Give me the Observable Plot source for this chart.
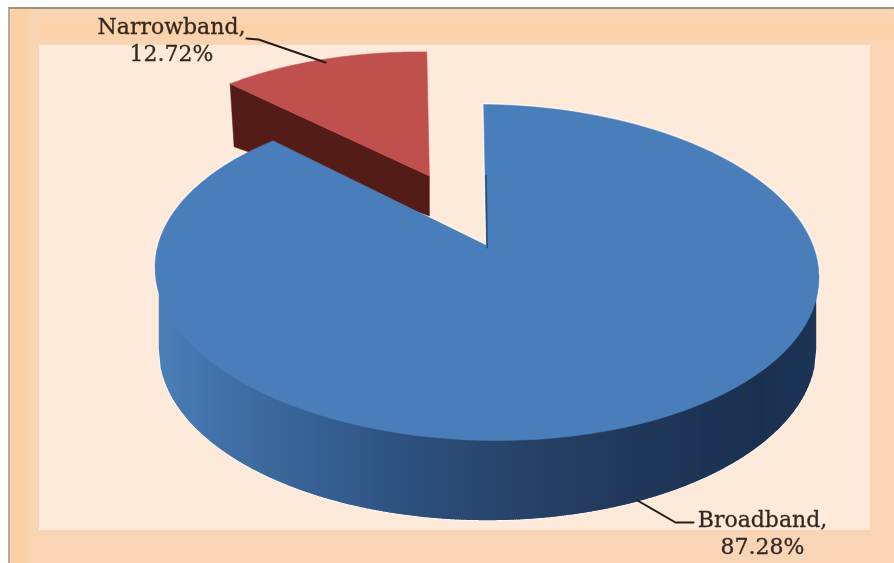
<!DOCTYPE html>
<html>
<head>
<meta charset="utf-8">
<script src="https://cdn.jsdelivr.net/npm/d3@7"></script>
<script src="https://cdn.jsdelivr.net/npm/@observablehq/plot@0.6"></script>
<style>
  html, body { margin: 0; padding: 0; background: #fff; }
  #stage { position: relative; width: 894px; height: 563px; overflow: hidden; }
  #frame { position: absolute; left: 8px; top: 7px; right: 0; bottom: 0; box-sizing: border-box;
           border-top: 2px solid #a3907c; border-left: 2px solid #b3aaa0;
           background: linear-gradient(90deg, #fdd0a8 0, #fdd0a8 15px, #f9d5b6 25px, transparent 30px),
                       linear-gradient(#f6d6ba 0, #fdd2aa 16px, #fdd2aa 26px, #f9d5b6 36px); }
  #panel { position: absolute; left: 39px; top: 45px; width: 831px; height: 485px; background: #fdeadb; }
  #chart { position: absolute; left: 0; top: 0; filter: blur(0.5px); }
  #chart svg { background: transparent; display: block; }
</style>
</head>
<body>
<div id="stage"><div id="frame"></div><div id="panel"></div><div id="chart"></div></div>
<script>
// Data
const categories = ["Broadband", "Narrowband"];
const shares = [87.28, 12.72];

// Tilted-disc view of the pie: ellipse of the top face and of the bottom rim
const topDisc = {cx: 486.5, cy: 272, rx: 332, ry: 168, apex: -0.16, shearX: 0.01, shearY: 0.02};
const rimDisc = {cx: 487, cy: 349, rx: 328, ry: 170};
const burst = {sx: 0.934, sy: 0.879, dx: -25, dy: -40};   // exploded slice
const burstDepth = {near: [0, 40], far: [4, 63]};

const sideStops = [159, 230, 330, 420, 520, 640, 760, 815];
const sideColors = ["#4c7fb8", "#416fa6", "#355f91", "#2d4f7c", "#274368", "#20385a", "#1b3150", "#1d3556"];

const colors = {broad: "#4a7ebb", narrow: "#c0504d", narrowSide: "#541c17"};

// Perspective projection of a point of the unit disc (u right, v down)
function project(u, v) {
  const a = topDisc.apex, w = 1 + a * v;
  const px = u * Math.sqrt(1 - a * a) / w, py = (v + a) / w;
  return [topDisc.cx + topDisc.rx * (px + topDisc.shearX * py),
          topDisc.cy + topDisc.ry * (py + topDisc.shearY * px)];
}
const rimAt = deg => project(Math.sin(deg * Math.PI / 180), -Math.cos(deg * Math.PI / 180));
const centre = project(0, 0);

const sweep = shares[0] * 3.6;              // Broadband runs clockwise from 12 o'clock
const arc = (a0, a1) => d3.range(0, 121).map(i => rimAt(a0 + (a1 - a0) * i / 120));
const moved = ([x, y]) => [x * burst.sx + burst.dx, y * burst.sy + burst.dy];

const broadFace = [centre, ...arc(0, sweep), centre];
const narrowFace = [centre, ...arc(sweep, 360), centre].map(moved);
const nFar = moved(rimAt(sweep)), nNear = moved(centre);
const narrowCut = [nFar, nNear,
  [nNear[0] + burstDepth.near[0], nNear[1] + burstDepth.near[1]],
  [nFar[0] + burstDepth.far[0], nFar[1] + burstDepth.far[1]], nFar];

// Outer wall cut into narrow strips so it can carry the horizontal shading
const yTop = x => { const u = (x - topDisc.cx) / topDisc.rx; return topDisc.cy + topDisc.ry * Math.sqrt(Math.max(0, 1 - u * u)) - 12; };
const yRim = x => { const u = (x - rimDisc.cx) / rimDisc.rx; return rimDisc.cy + rimDisc.ry * Math.sqrt(Math.max(0, 1 - u * u)); };
const wall = [];
const wallOutline = [];
for (let x = sideStops[0]; x < sideStops[sideStops.length - 1]; x += 2) {
  const x2 = Math.min(x + 2, sideStops[sideStops.length - 1]);
  [[x, yTop(x)], [x2, yTop(x2)], [x2, yRim(x2)], [x, yRim(x)], [x, yTop(x)]]
    .forEach(([px, py]) => wall.push({x: px, y: py, strip: x, shade: x + 1}));
  wallOutline.push([x, yRim(x)]);
}
wallOutline.push([sideStops[sideStops.length - 1], yRim(sideStops[sideStops.length - 1])]);

const labels = [
  {x: 171, y: 38.5, text: `${categories[1]},\n${shares[1].toFixed(2)}%`},
  {x: 762, y: 531, text: `${categories[0]},\n${shares[0].toFixed(2)}%`}
];
const leaders = [
  {id: 0, x: 246, y: 38}, {id: 0, x: 258, y: 39}, {id: 0, x: 325, y: 62},
  {id: 1, x: 637, y: 500}, {id: 1, x: 675, y: 522}, {id: 1, x: 693, y: 522}
];

const X = d => d[0], Y = d => d[1];
const plot = Plot.plot({
  width: 894, height: 563, margin: 0,
  x: {domain: [0, 894], range: [0, 894], axis: null},
  y: {domain: [0, 563], range: [0, 563], axis: null},
  color: {type: "linear", domain: sideStops, range: sideColors},
  style: {background: "transparent"},
  marks: [
    // pale halo round the blue silhouette
    Plot.line(broadFace, {x: X, y: Y, stroke: "#ffffff", strokeWidth: 3, strokeOpacity: 0.6}),
    Plot.line(wallOutline, {x: X, y: Y, stroke: "#ffffff", strokeWidth: 3, strokeOpacity: 0.6}),
    // exploded Narrowband slice
    Plot.line(narrowCut, {x: X, y: Y, fill: colors.narrowSide, stroke: colors.narrowSide, strokeWidth: 0.5}),
    Plot.line(narrowFace, {x: X, y: Y, fill: colors.narrow, stroke: colors.narrow, strokeWidth: 0.5}),
    // Broadband slice
    Plot.line(wall, {x: "x", y: "y", z: "strip", fill: "shade", stroke: "shade", strokeWidth: 1.4}),
    Plot.line(broadFace, {x: X, y: Y, fill: colors.broad, stroke: colors.broad, strokeWidth: 0.5}),
    Plot.line([[centre[0] + 0.6, centre[1] + 2], [centre[0] - 0.4, centre[1] - 70]],
      {x: X, y: Y, stroke: "#27405f", strokeWidth: 1.6, strokeOpacity: 0.8}),
    // leaders and labels
    Plot.line(leaders, {x: "x", y: "y", z: "id", stroke: "#241c16", strokeWidth: 2}),
    Plot.text(labels, {
      x: "x", y: "y", text: "text", fontFamily: "DejaVu Serif", fontSize: 22,
      lineHeight: 1.22, fill: "#33281f", stroke: "#33281f", strokeWidth: 0.3, textAnchor: "middle"
    })
  ]
});
document.getElementById("chart").appendChild(plot);
</script>
</body>
</html>
